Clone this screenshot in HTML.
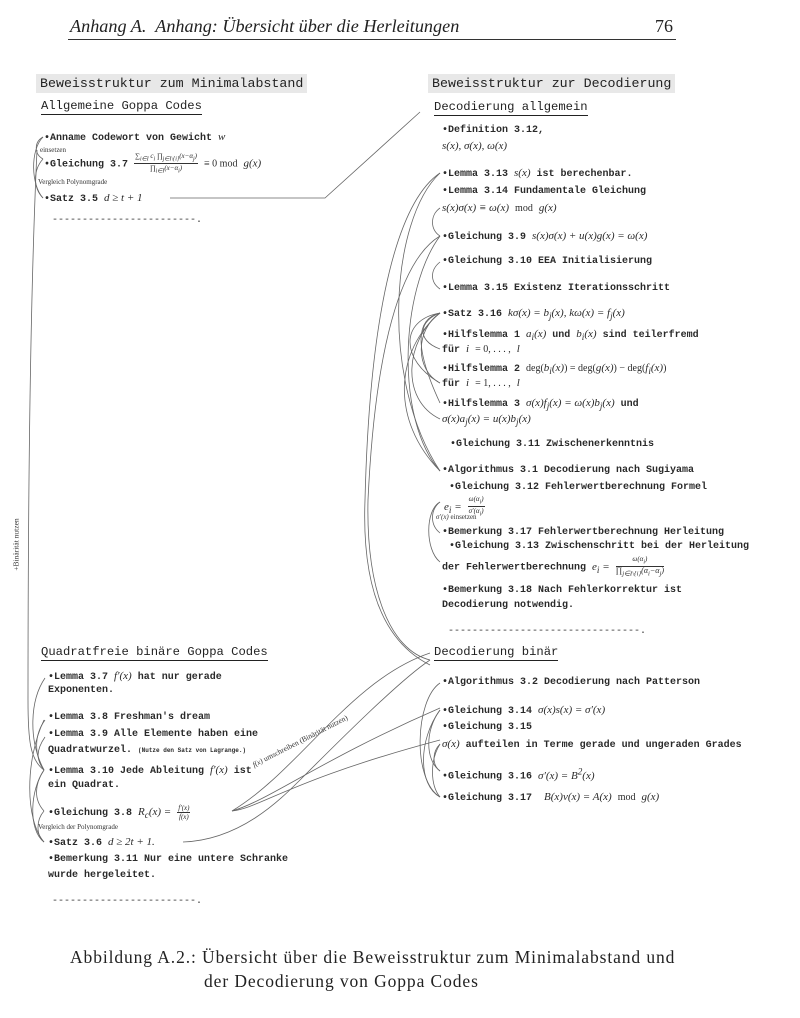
<!DOCTYPE html>
<html><head><meta charset="utf-8">
<style>
body{margin:0;background:#fff;}
#p{position:relative;width:800px;height:1018px;overflow:hidden;background:#fff;color:#222;}
.t{position:absolute;white-space:nowrap;font-family:"Liberation Mono",monospace;font-size:10px;line-height:14px;font-weight:bold;color:#2a2a2a;}
.m{font-family:"Liberation Serif",serif;font-style:italic;font-weight:normal;font-size:11px;}
.r{font-family:"Liberation Serif",serif;font-weight:normal;}
.s{position:absolute;white-space:nowrap;font-family:"Liberation Serif",serif;font-size:7px;color:#333;}
.h{position:absolute;white-space:nowrap;font-family:"Liberation Mono",monospace;font-size:12.2px;color:#222;border-bottom:1.3px solid #222;line-height:15px;}
.bx{position:absolute;white-space:nowrap;font-family:"Liberation Mono",monospace;font-size:13.3px;background:#e8e8e8;padding:1px 4px;color:#222;line-height:17px;}
.dash{position:absolute;font-family:"Liberation Mono",monospace;font-size:10px;color:#333;white-space:nowrap;}
.serif{position:absolute;white-space:nowrap;font-family:"Liberation Serif",serif;font-size:18px;color:#222;}
.fr{display:inline-block;vertical-align:middle;text-align:center;font-family:"Liberation Serif",serif;font-style:italic;font-weight:normal;font-size:7px;line-height:8px;}
.fr span{display:block;}
.fr .n{border-bottom:0.8px solid #333;padding:0 1px;}
</style></head><body><div id="p">

<div class="serif" style="left:70px;top:16px;font-style:italic;font-size:18.2px;">Anhang A.&nbsp; Anhang: Übersicht über die Herleitungen</div>
<div class="serif" style="left:655px;top:16px;">76</div>
<div style="position:absolute;left:68px;top:39px;width:608px;height:1px;background:#333;"></div>

<div class="bx" style="left:36px;top:74px;">Beweisstruktur zum Minimalabstand</div>
<div class="bx" style="left:428px;top:74px;">Beweisstruktur zur Decodierung</div>

<div class="h" style="left:41px;top:99px;">Allgemeine Goppa Codes</div>
<div class="t" style="left:44px;top:130px;">•Anname Codewort von Gewicht <span class="m">w</span></div>
<div class="s" style="left:40px;top:146px;">einsetzen</div>
<div class="t" style="left:44px;top:152px;">•Gleichung 3.7 <span class="fr"><span class="n">∑<sub>i∈I</sub> c<sub>i</sub> ∏<sub>j∈I\{i}</sub>(x−α<sub>j</sub>)</span><span>∏<sub>i∈I</sub>(x−α<sub>i</sub>)</span></span> <span class="r">≡ 0 mod</span> <span class="m">g(x)</span></div>
<div class="s" style="left:38px;top:178px;">Vergleich Polynomgrade</div>
<div class="t" style="left:44px;top:191px;">•Satz 3.5 <span class="m">d ≥ t + 1</span></div>
<div class="dash" style="left:52px;top:215px;">------------------------.</div>

<div class="h" style="left:434px;top:100px;">Decodierung allgemein</div>
<div class="t" style="left:442px;top:124px;">•Definition 3.12,</div>
<div class="t" style="left:442px;top:139px;"><span class="m">s(x), σ(x), ω(x)</span></div>
<div class="t" style="left:442px;top:166px;">•Lemma 3.13 <span class="m">s(x)</span> ist berechenbar.</div>
<div class="t" style="left:442px;top:185px;">•Lemma 3.14 Fundamentale Gleichung</div>
<div class="t" style="left:442px;top:201px;"><span class="m">s(x)σ(x) ≡ ω(x)</span> <span class="r">mod</span> <span class="m">g(x)</span></div>
<div class="t" style="left:442px;top:229px;">•Gleichung 3.9 <span class="m">s(x)σ(x) + u(x)g(x) = ω(x)</span></div>
<div class="t" style="left:442px;top:255px;">•Gleichung 3.10 EEA Initialisierung</div>
<div class="t" style="left:442px;top:282px;">•Lemma 3.15 Existenz Iterationsschritt</div>
<div class="t" style="left:442px;top:306px;">•Satz 3.16 <span class="m">kσ(x) = b<sub>j</sub>(x), kω(x) = f<sub>j</sub>(x)</span></div>
<div class="t" style="left:442px;top:327px;">•Hilfslemma 1 <span class="m">a<sub>i</sub>(x)</span> und <span class="m">b<sub>i</sub>(x)</span> sind teilerfremd</div>
<div class="t" style="left:442px;top:342px;">für <span class="m">i</span> <span class="r">= 0, . . . ,</span> <span class="m">l</span></div>
<div class="t" style="left:442px;top:361px;">•Hilfslemma 2 <span class="r">deg(</span><span class="m">b<sub>i</sub>(x)</span><span class="r">) = deg(</span><span class="m">g(x)</span><span class="r">) − deg(</span><span class="m">f<sub>i</sub>(x)</span><span class="r">)</span></div>
<div class="t" style="left:442px;top:376px;">für <span class="m">i</span> <span class="r">= 1, . . . ,</span> <span class="m">l</span></div>
<div class="t" style="left:442px;top:396px;">•Hilfslemma 3 <span class="m">σ(x)f<sub>j</sub>(x) = ω(x)b<sub>j</sub>(x)</span> und</div>
<div class="t" style="left:442px;top:412px;"><span class="m">σ(x)a<sub>j</sub>(x) = u(x)b<sub>j</sub>(x)</span></div>
<div class="t" style="left:450px;top:438px;">•Gleichung 3.11 Zwischenerkenntnis</div>
<div class="t" style="left:442px;top:464px;">•Algorithmus 3.1 Decodierung nach Sugiyama</div>
<div class="t" style="left:449px;top:481px;">•Gleichung 3.12 Fehlerwertberechnung Formel</div>
<div class="t" style="left:444px;top:495px;"><span class="m">e<sub>i</sub> =</span> <span class="fr"><span class="n">ω(α<sub>i</sub>)</span><span>σ′(α<sub>i</sub>)</span></span></div>
<div class="s" style="left:436px;top:513px;"><i>σ′(x)</i> einsetzen</div>
<div class="t" style="left:442px;top:526px;">•Bemerkung 3.17 Fehlerwertberechnung Herleitung</div>
<div class="t" style="left:449px;top:540px;">•Gleichung 3.13 Zwischenschritt bei der Herleitung</div>
<div class="t" style="left:442px;top:555px;">der Fehlerwertberechnung <span class="m">e<sub>i</sub> =</span> <span class="fr"><span class="n">ω(α<sub>i</sub>)</span><span style="font-size:8px">∏<sub>j∈I\{i}</sub>(α<sub>i</sub>−α<sub>j</sub>)</span></span></div>
<div class="t" style="left:442px;top:584px;">•Bemerkung 3.18 Nach Fehlerkorrektur ist</div>
<div class="t" style="left:442px;top:599px;">Decodierung notwendig.</div>
<div class="dash" style="left:448px;top:626px;">--------------------------------.</div>

<div class="h" style="left:434px;top:645px;">Decodierung binär</div>
<div class="t" style="left:442px;top:676px;">•Algorithmus 3.2 Decodierung nach Patterson</div>
<div class="t" style="left:442px;top:703px;">•Gleichung 3.14 <span class="m">σ(x)s(x) = σ′(x)</span></div>
<div class="t" style="left:442px;top:721px;">•Gleichung 3.15</div>
<div class="t" style="left:442px;top:737px;"><span class="m">σ(x)</span> aufteilen in Terme gerade und ungeraden Grades</div>
<div class="t" style="left:442px;top:764px;">•Gleichung 3.16 <span class="m">σ′(x) = B<sup>2</sup>(x)</span></div>
<div class="t" style="left:442px;top:790px;">•Gleichung 3.17 &nbsp;<span class="m">B(x)v(x) = A(x)</span> <span class="r">mod</span> <span class="m">g(x)</span></div>

<div class="h" style="left:41px;top:645px;">Quadratfreie binäre Goppa Codes</div>
<div class="t" style="left:48px;top:669px;">•Lemma 3.7 <span class="m">f′(x)</span> hat nur gerade</div>
<div class="t" style="left:48px;top:684px;">Exponenten.</div>
<div class="t" style="left:48px;top:711px;">•Lemma 3.8 Freshman's dream</div>
<div class="t" style="left:48px;top:728px;">•Lemma 3.9 Alle Elemente haben eine</div>
<div class="t" style="left:48px;top:744px;">Quadratwurzel. <span style="font-size:6px">(Nutze den Satz von Lagrange.)</span></div>
<div class="t" style="left:48px;top:763px;">•Lemma 3.10 Jede Ableitung <span class="m">f′(x)</span> ist</div>
<div class="t" style="left:48px;top:779px;">ein Quadrat.</div>
<div class="t" style="left:48px;top:804px;">•Gleichung 3.8 <span class="m">R<sub>c</sub>(x) =</span> <span class="fr"><span class="n">f′(x)</span><span>f(x)</span></span></div>
<div class="s" style="left:38px;top:823px;">Vergleich der Polynomgrade</div>
<div class="t" style="left:48px;top:835px;">•Satz 3.6 <span class="m">d ≥ 2t + 1.</span></div>
<div class="t" style="left:48px;top:853px;">•Bemerkung 3.11 Nur eine untere Schranke</div>
<div class="t" style="left:48px;top:869px;">wurde hergeleitet.</div>
<div class="dash" style="left:52px;top:896px;">------------------------.</div>

<div class="serif" style="left:70px;top:947px;font-size:17.5px;letter-spacing:0.9px;">Abbildung A.2.: Übersicht über die Beweisstruktur zum Minimalabstand und</div>
<div class="serif" style="left:204px;top:971px;font-size:17.5px;letter-spacing:0.9px;">der Decodierung von Goppa Codes</div>

<div class="s" style="left:-10px;top:540px;transform:rotate(-90deg);font-size:7.5px;">+Binärität nutzen</div>
<div class="s" style="left:255px;top:760px;transform:rotate(-27deg);transform-origin:left bottom;font-size:7.5px;"><i>f(x)</i> umschreiben (Binärität nutzen)</div>

<svg width="800" height="1018" style="position:absolute;left:0;top:0;" fill="none" stroke="#666" stroke-width="0.8">
<path d="M43 137 C34 142,34 154,43 159"/>
<path d="M43 159 C33 170,33 188,43 198"/>
<path d="M43 137 C30 150,31 185,43 198"/>
<path d="M170 198 L325 198 L420 112"/>
<path d="M37 150 C30 300,28 500,28 700 C28 740,30 760,44 770"/>
<path d="M45 678 C30 700,28 740,44 770"/>
<path d="M45 720 C34 735,34 755,44 770"/>
<path d="M45 737 C36 750,36 760,44 770"/>
<path d="M44 770 C34 785,34 800,44 811"/>
<path d="M44 770 C30 790,28 830,44 842"/>
<path d="M44 811 C36 820,36 835,44 842"/>
<path d="M44 720 C25 760,25 820,44 842"/>
<path d="M232 811 C260 808,290 780,440 740"/>
<path d="M232 811 C270 800,320 760,440 708"/>
<path d="M232 811 C300 770,350 680,430 653"/>
<path d="M183 842 C240 840,280 800,300 780 C340 740,400 680,430 660"/>
<path d="M440 683 C415 700,412 780,440 797"/>
<path d="M440 710 C425 730,425 760,440 771"/>
<path d="M440 744 C430 760,430 785,440 797"/>
<path d="M440 744 C432 752,432 765,440 771"/>
<path d="M440 710 C418 740,418 785,440 797"/>
<path d="M440 208 C430 215,430 230,440 236"/>
<path d="M440 262 C430 270,430 282,440 289"/>
<path d="M440 173 C400 200,370 300,365 500 C362 580,380 640,430 665"/>
<path d="M440 236 C400 260,375 350,368 500 C366 590,390 650,430 660"/>
<path d="M440 173 C390 220,380 380,440 471"/>
<path d="M440 236 C400 290,395 420,440 471"/>
<path d="M440 313 C420 320,415 340,440 349"/>
<path d="M440 313 C415 330,415 370,440 383"/>
<path d="M440 313 C405 340,400 400,440 419"/>
<path d="M440 313 C395 350,390 420,440 471"/>
<path d="M440 403 C420 360,410 320,440 313"/>
<path d="M440 383 C400 360,400 320,440 313"/>
<path d="M440 502 C425 510,425 550,440 562"/>
<path d="M440 502 C430 510,430 525,440 533"/>
</svg>
</div></body></html>
